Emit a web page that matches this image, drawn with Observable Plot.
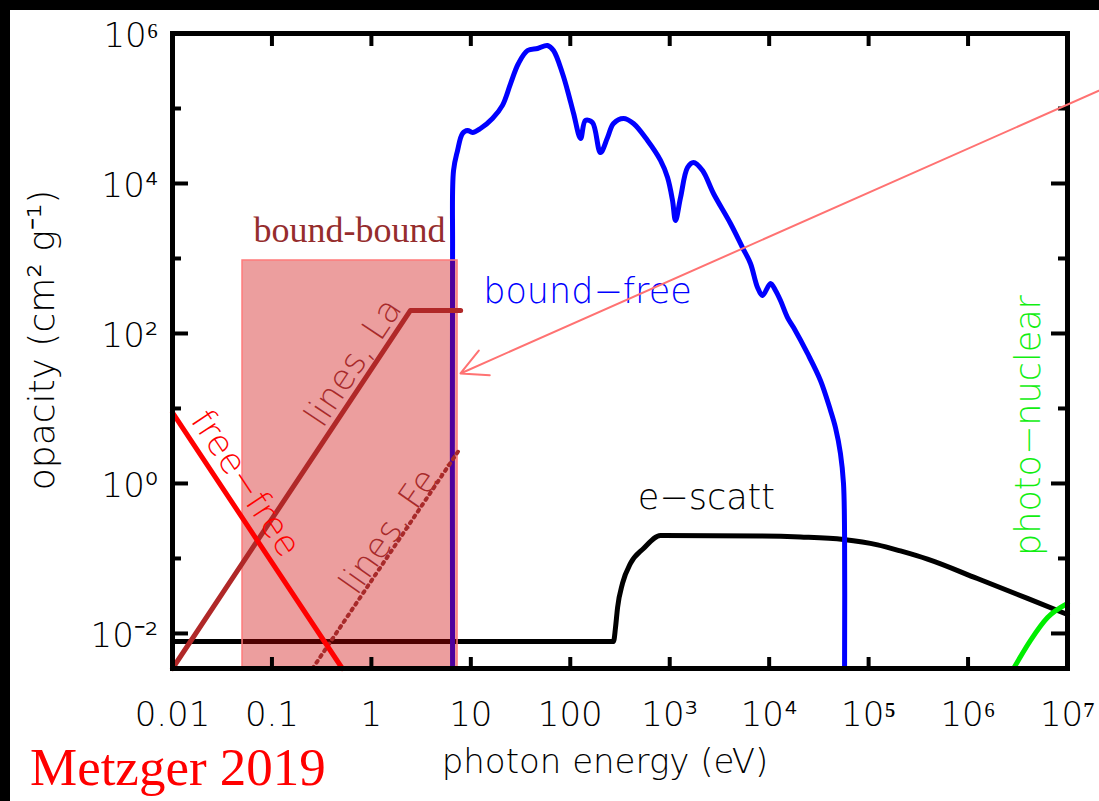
<!DOCTYPE html>
<html><head><meta charset="utf-8">
<script src="https://cdn.jsdelivr.net/npm/d3@7"></script>
<script src="https://cdn.jsdelivr.net/npm/@observablehq/plot@0.6"></script>
<style>
html,body{margin:0;padding:0;background:#000;width:1099px;height:801px;overflow:hidden;}
#wrap{position:absolute;left:10px;top:10px;width:1089px;height:791px;background:#fff;overflow:hidden;}
#credit{position:absolute;left:20px;top:731px;font-family:"Liberation Serif","Times New Roman",serif;font-size:53px;line-height:1;color:#ff0000;white-space:nowrap;}
</style></head><body>
<div id="wrap"><div id="chart"></div><div id="credit">Metzger 2019</div></div>
<script>
// ---- axes ----
const xTicks = [0.01, 0.1, 1, 10, 100, 1e3, 1e4, 1e5, 1e6, 1e7];
const xTickLabels = ["0.01", "0.1", "1", "10", "100", "10³", "10⁴", "10⁵", "10⁶", "10⁷"];
const yTicks = [1e-2, 1, 1e2, 1e4, 1e6];
const yTickLabels = ["10⁻²", "10⁰", "10²", "10⁴", "10⁶"];
const yMinorTicks = [1e-1, 10, 1e3, 1e5];

// ---- series (photon energy eV, opacity cm^2/g) ----
const escattE = [0.01, 272, 285, 299, 335, 403, 545, 808, 8180, 20650, 56000, 123000, 209000, 391000, 1.24e6, 3.96e6, 1e7];
const escattK = [0.0078, 0.0078, 0.012, 0.0222, 0.0464, 0.0858, 0.136, 0.203, 0.2, 0.1935, 0.179, 0.152, 0.126, 0.098, 0.054, 0.0293, 0.0179];

const boundFreeE = [6.55, 6.55, 6.7, 7.35, 8.25, 9.27, 10.4, 12.5, 16.5, 20.8, 25.1, 30.1, 37.2, 46.9, 59.0, 67.8, 83.5, 93.8, 108, 127, 142, 167, 201, 237, 272, 343, 432, 598, 808, 951, 1067, 1143, 1285, 1510, 1734, 2138, 2754, 4083, 5395, 6487, 7638, 8570, 10320, 11580, 13000, 15300, 17600, 24300, 32800, 41400, 46400, 52100, 55900, 57300, 57300];
const boundFreeK = [0.00341, 1167, 14900, 27500, 46400, 50900, 47900, 54100, 73600, 110000, 215000, 398000, 593000, 631000, 692000, 593000, 293000, 174000, 85700, 39800, 69200, 65000, 25900, 41000, 63100, 73600, 63100, 37400, 20300, 12000, 5930, 3210, 6500, 16300, 19100, 14900, 7360, 2930, 1400, 858, 411, 321, 464, 374, 275, 163, 120, 54.1, 23.6, 9.4, 5.58, 2.51, 1.0, 0.215, 0.00341];

const freeFreeE = [0.01, 0.51];
const freeFreeK = [8.8, 0.00341];

const linesLaE = [0.01, 2.47, 7.9];
const linesLaK = [0.00341, 203, 203];

const linesFeE = [0.256, 7.9];
const linesFeK = [0.00341, 3.0];

const photoNuclearE = [2.87e6, 4.25e6, 6.3e6, 1e7];
const photoNuclearK = [0.00341, 0.0081, 0.0163, 0.0251];

// bound-bound band
const boxE = [0.0506, 7.35];
const boxK = [0.00341, 940];

// annotation arrow (from outside right toward the band)
const arrowE = [3e7, 7.87];
const arrowK = [2.15e5, 29.3];

// curve labels (anchor in data units)
const labelText = ["bound-bound", "bound−free", "e−scatt", "photo−nuclear", "free−free", "lines, La", "lines, Fe..."];
const labelE = [0.603, 149, 2340, 4.06e6, 0.0542, 0.66, 1.87];
const labelK = [2361, 357, 0.65, 5.93, 1.0, 41, 0.35];

const zip = (E, K) => E.map((e, i) => ({E: e, K: K[i]}));
const lab = i => [{t: labelText[i], E: labelE[i], K: labelK[i]}];

const FW = 1089 - 162 - 32;   // frame width
const FH = 791 - 23 - 133;    // frame height
const sans = "DejaVu Sans";
const W = 300;

const chart = Plot.plot({
  width: 1089, height: 791,
  marginLeft: 162, marginRight: 32, marginTop: 23, marginBottom: 133,
  x: {type: "log", domain: [0.01, 1e7], axis: null},
  y: {type: "log", domain: [0.00341, 1e6], axis: null},
  style: {fontFamily: sans, background: "#fff", color: "#000", overflow: "visible"},
  marks: [
    Plot.line(zip(escattE, escattK), {x: "E", y: "K", stroke: "#000", strokeWidth: 5, curve: "monotone-x"}),
    Plot.line(zip(boundFreeE, boundFreeK), {x: "E", y: "K", stroke: "#0000ff", strokeWidth: 5, curve: "catmull-rom"}),
    Plot.rect([{x1: boxE[0], x2: boxE[1], y1: boxK[0], y2: boxK[1]}], {x1: "x1", x2: "x2", y1: "y1", y2: "y2", fill: "#cc0000", fillOpacity: 0.38, stroke: "#ff7a7a", strokeWidth: 1.5}),
    Plot.line(zip(linesLaE, linesLaK), {x: "E", y: "K", stroke: "#b02828", strokeWidth: 5}),
    Plot.line(zip(linesFeE, linesFeK), {x: "E", y: "K", stroke: "#a82a2a", strokeWidth: 4, strokeDasharray: "2,5"}),
    Plot.line(zip(freeFreeE, freeFreeK), {x: "E", y: "K", stroke: "#ff0000", strokeWidth: 5}),
    Plot.line(zip(photoNuclearE, photoNuclearK), {x: "E", y: "K", stroke: "#00ee00", strokeWidth: 5, curve: "monotone-x"}),
    // frame & inward ticks
    Plot.frame({stroke: "#000", strokeWidth: 5}),
    Plot.ruleX(xTicks, {x: d => d, stroke: "#000", strokeWidth: 4, insetTop: FH - 11}),
    Plot.ruleX(xTicks, {x: d => d, stroke: "#000", strokeWidth: 4, insetBottom: FH - 13}),
    Plot.ruleY(yTicks, {y: d => d, stroke: "#000", strokeWidth: 4, insetRight: FW - 16}),
    Plot.ruleY(yMinorTicks, {y: d => d, stroke: "#000", strokeWidth: 4, insetRight: FW - 9}),
    Plot.ruleY(yTicks, {y: d => d, stroke: "#000", strokeWidth: 4, insetLeft: FW - 16}),
    Plot.ruleY(yMinorTicks, {y: d => d, stroke: "#000", strokeWidth: 4, insetLeft: FW - 9}),
    // tick labels
    Plot.axisX({anchor: "bottom", ticks: xTicks, tickSize: 0, tickPadding: 33, fontSize: 34, fontWeight: W, fill: "#000", tickFormat: d => xTickLabels[xTicks.indexOf(d)], label: null}),
    Plot.axisY({anchor: "left", ticks: yTicks, tickSize: 0, tickPadding: 14, fontSize: 34, fontWeight: W, fill: "#000", dy: 3, tickFormat: d => yTickLabels[yTicks.indexOf(d)], label: null}),
    // axis titles
    Plot.text(["photon energy (eV)"], {text: d => d, frameAnchor: "bottom", lineAnchor: "middle", textAnchor: "middle", dx: -15, dy: 94, fontSize: 34, fontWeight: W, fill: "#000"}),
    Plot.text(["opacity (cm² g⁻¹)"], {text: d => d, frameAnchor: "left", lineAnchor: "middle", textAnchor: "middle", dx: -130, dy: -11, rotate: -90, fontSize: 36, fontWeight: W, fill: "#000"}),
    // curve labels
    Plot.text(lab(0), {x: "E", y: "K", text: "t", fontFamily: "Liberation Serif", fontSize: 36, fill: "#952d2d"}),
    Plot.text(lab(1), {x: "E", y: "K", text: "t", fontSize: 35, fontWeight: W, fill: "#0000ff"}),
    Plot.text(lab(2), {x: "E", y: "K", text: "t", fontSize: 35, fontWeight: W, fill: "#000"}),
    Plot.text(lab(3), {x: "E", y: "K", text: "t", fontSize: 35, fontWeight: W, fill: "#11ee11", rotate: -90}),
    Plot.text(lab(4), {x: "E", y: "K", text: "t", fontSize: 35, fontWeight: W, fill: "#ff0000", rotate: 56.4}),
    Plot.text(lab(5), {x: "E", y: "K", text: "t", fontSize: 35, fontWeight: W, fill: "#a82a2a", rotate: -56.4}),
    Plot.text(lab(6), {x: "E", y: "K", text: "t", fontSize: 35, fontWeight: W, fill: "#a82a2a", rotate: -55}),
    // annotation arrow
    Plot.arrow([{x1: arrowE[0], y1: arrowK[0], x2: arrowE[1], y2: arrowK[1]}], {x1: "x1", y1: "y1", x2: "x2", y2: "y2", stroke: "#ff7272", strokeWidth: 2, headLength: 22, headAngle: 55})
  ]
});
document.getElementById("chart").appendChild(chart);
</script>
</body></html>
